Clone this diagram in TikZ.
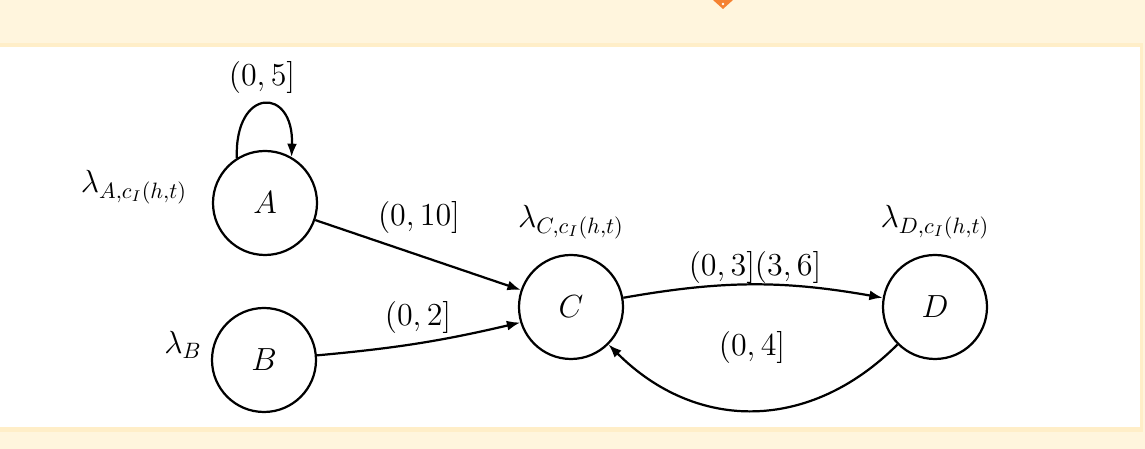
\documentclass[tikz,border=0pt]{standalone}
\usepackage{amsmath}
\usepackage{tikz}
\usetikzlibrary{arrows.meta}
\definecolor{creamfig}{RGB}{255,245,221}
\definecolor{stripfig}{RGB}{255,238,200}
\definecolor{orangefig}{RGB}{245,130,50}
\tikzset{
    statenode/.style={circle, draw=black, line width=1pt, minimum size=46.8pt, inner sep=0pt, font=\Large},
    ratelabel/.style={font=\Large, inner sep=1pt},
    intlabel/.style={font=\Large, inner sep=1pt},
    blackarrow/.style={line width=1pt, color=black, -{Latex[length=6pt,width=4.5pt]}}
}

\begin{document}
\begin{tikzpicture}[x=0.45pt, y=0.45pt]
    % background panel
    \fill[creamfig] (0,0) rectangle (1145,449);
    \fill[stripfig] (0,17) rectangle (1143,406);
    \fill[white] (0,22) rectangle (1140,402);
    \fill[orangefig] (713,449) -- (733,449) -- (723,440) -- cycle;
    \fill[white] (723,445) circle (1.3);
    \useasboundingbox (0,0) rectangle (1145,449);

    % states
    \node[statenode] (A) at (265,246) {$A$};
    \node[statenode] (B) at (264,89) {$B$};
    \node[statenode] (C) at (571,142) {$C$};
    \node[statenode] (D) at (935,142) {$D$};

    % rates
    \node[ratelabel] (lamA) at (134,262) {$\lambda_{A,c_I(h,t)}$};
    \node[ratelabel] (lamB) at (183,104) {$\lambda_B$};
    \node[ratelabel] (lamC) at (571,227) {$\lambda_{C,c_I(h,t)}$};
    \node[ratelabel] (lamD) at (935,227) {$\lambda_{D,c_I(h,t)}$};

    % transitions
    \draw[blackarrow] (A.122) to[out=92, in=88, distance=32pt] (A.60);
    \draw[blackarrow] (A) -- (C);
    \draw[blackarrow] (B.5) to[bend right=4] (C.197);
    \draw[blackarrow] (C) to[bend left=10] (D);
    \draw[blackarrow] (D) to[out=225, in=315, looseness=1.1] (C);

    \node[intlabel] (tAA) at (262,371) {$(0,5]$};
    \node[intlabel] (tAC) at (419,231) {$(0,10]$};
    \node[intlabel] (tBC) at (418,131) {$(0,2]$};
    \node[intlabel] (tCD) at (755,181) {$(0,3](3,6]$};
    \node[intlabel] (tDC) at (752,101) {$(0,4]$};

\end{tikzpicture}
\end{document}
